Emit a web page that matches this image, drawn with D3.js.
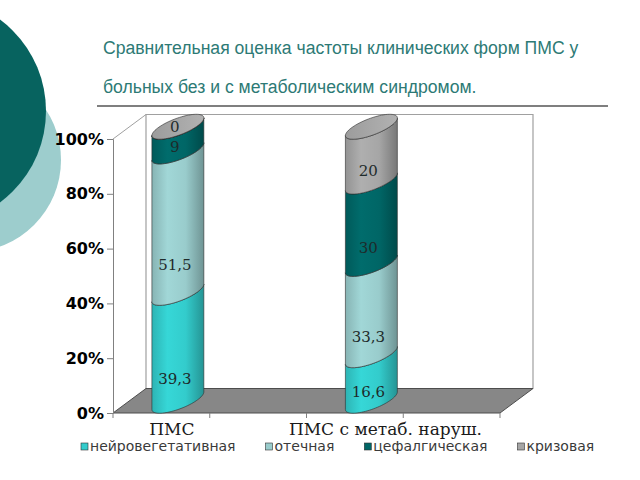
<!DOCTYPE html>
<html>
<head>
<meta charset="utf-8">
<script src="https://cdn.jsdelivr.net/npm/d3@7"></script>
<style>
  body { margin: 0; background: #fff; }
  svg { display: block; }
</style>
</head>
<body>
<div id="chart"></div>
<script>
// data
const categories = ['ПМС', 'ПМС с метаб. наруш.'];
const seriesNames = ['нейровегетативная', 'отечная', 'цефалгическая', 'кризовая'];
const neuroVeg = [39.3, 16.6];
const edema = [51.5, 33.3];
const cephalgic = [9, 30];
const crisis = [0, 20];
const yTicks = [0, 0.2, 0.4, 0.6, 0.8, 1];
const seriesColors = ['#33cccc', '#99cccc', '#006666', '#a6a6a6'];

const W = 640, H = 480;
const svg = d3.select('#chart').append('svg').attr('width', W).attr('height', H);
const defs = svg.append('defs');

// decorative circles on the left
svg.append('circle').attr('cx', -31).attr('cy', 160).attr('r', 92).attr('fill', '#9dcdcd');
svg.append('circle').attr('cx', -68).attr('cy', 111).attr('r', 114).attr('fill', '#07635f');

// title
const title = svg.append('g').attr('font-family', '"Liberation Sans", Arial, sans-serif')
  .attr('font-size', 17.6).attr('fill', '#2d7a75');
title.append('text').attr('x', 103).attr('y', 54).text('Сравнительная оценка частоты клинических форм ПМС у');
title.append('text').attr('x', 103).attr('y', 93).text('больных без и с метаболическим синдромом.');
svg.append('line').attr('x1', 97).attr('x2', 608).attr('y1', 106).attr('y2', 106)
  .attr('stroke', '#7f7f7f').attr('stroke-width', 2);

// rows for stacking
const rows = categories.map((c, i) => ({
  cat: c,
  [seriesNames[0]]: neuroVeg[i],
  [seriesNames[1]]: edema[i],
  [seriesNames[2]]: cephalgic[i],
  [seriesNames[3]]: crisis[i]
}));
const stacked = d3.stack().keys(seriesNames).offset(d3.stackOffsetExpand)(rows);

// scales (front plane)
const x = d3.scaleBand().domain(categories).range([113, 500]).paddingInner(0).paddingOuter(0);
const y = d3.scaleLinear().domain([0, 1]).range([413, 139]);
const color = d3.scaleOrdinal().domain(seriesNames).range(seriesColors);
const DX = 33, DY = -24.5;   // depth of the 3d box

const bw = x.bandwidth();
const x0 = 113, x1 = 500, yb = y(0), yt = y(1);

// walls and floor
const box = svg.append('g');
box.append('path')
  .attr('d', `M${x0 + DX},${yt + DY}H${x1 + DX}V${yb + DY}H${x0 + DX}Z`)
  .attr('fill', '#fff').attr('stroke', '#a0a0a0').attr('stroke-width', 1.2);
box.append('path')
  .attr('d', `M${x0},${yt}L${x0 + DX},${yt + DY}`)
  .attr('fill', 'none').attr('stroke', '#a0a0a0');
box.append('path')
  .attr('d', `M${x0},${yb}L${x1},${yb}L${x1 + DX},${yb + DY}L${x0 + DX},${yb + DY}Z`)
  .attr('fill', '#878787').attr('stroke', '#4d4d4d').attr('stroke-width', 1);

// y axis
const yAxis = svg.append('g').attr('transform', `translate(${x0},0)`)
  .call(d3.axisLeft(y).tickValues(yTicks).tickFormat(d3.format('.0%')).tickSize(6).tickPadding(3));
yAxis.select('.domain').attr('stroke', '#808080');
yAxis.selectAll('.tick line').attr('stroke', '#808080');
yAxis.selectAll('.tick text').attr('font-family', '"DejaVu Sans", Verdana, sans-serif')
  .attr('font-weight', 'bold').attr('font-size', 16).attr('fill', '#000');

// x axis ticks (category bounds and mid points)
const xTicks = [];
categories.forEach(c => { xTicks.push(x(c), x(c) + bw / 2); });
xTicks.push(x1);
svg.append('g').selectAll('line').data(xTicks).join('line')
  .attr('x1', d => d).attr('x2', d => d).attr('y1', yb).attr('y2', yb + 5)
  .attr('stroke', '#808080');

// category labels
svg.append('g').selectAll('text').data(categories).join('text')
  .attr('x', d => x(d) + bw / 4 + DX / 2 + (d.length > 5 ? 14 : -6))
  .attr('y', 435)
  .attr('text-anchor', 'middle')
  .attr('font-family', '"DejaVu Serif", serif')
  .attr('font-size', 17).attr('fill', '#1a1a1a')
  .text(d => d);

// cylinder geometry
const A = 27.6, B = 8.3, phi = 20.7 * Math.PI / 180;
const ex = t => A * Math.cos(t) * Math.cos(phi) - B * Math.sin(t) * Math.sin(phi);
const ey = t => -(A * Math.cos(t) * Math.sin(phi) + B * Math.sin(t) * Math.cos(phi));
const tR = Math.atan2(-B * Math.sin(phi), A * Math.cos(phi));
const frontArc = d3.range(0, 41).map(i => tR + Math.PI + Math.PI * i / 40);
const cylX = c => x(c) + bw / 4 + DX / 2;
const cylY = v => y(v) + DY / 2;

function segmentPath(cx, v0, v1) {
  const top = frontArc.map(t => [cx + ex(t), cylY(v1) + ey(t)]);
  const bot = frontArc.map(t => [cx + ex(t), cylY(v0) + ey(t)]).reverse();
  return d3.line()(top.concat(bot)) + 'Z';
}
function ellipsePath(cx, v) {
  const pts = d3.range(0, 73).map(i => [cx + ex(i * Math.PI / 36), cylY(v) + ey(i * Math.PI / 36)]);
  return d3.line()(pts) + 'Z';
}

// gradients for side shading
seriesNames.forEach((s, i) => {
  const c = d3.color(color(s));
  const g = defs.append('linearGradient').attr('id', 'g' + i).attr('x1', 0).attr('x2', 1).attr('y1', 0).attr('y2', 0);
  g.append('stop').attr('offset', '0%').attr('stop-color', c.darker(0.35));
  g.append('stop').attr('offset', '30%').attr('stop-color', c.brighter(0.15));
  g.append('stop').attr('offset', '65%').attr('stop-color', c);
  g.append('stop').attr('offset', '100%').attr('stop-color', c.darker(0.9));
});
const capGrad = defs.append('linearGradient').attr('id', 'cap').attr('x1', 0).attr('x2', 1).attr('y1', 0).attr('y2', 0);
capGrad.append('stop').attr('offset', '0%').attr('stop-color', '#9c9c9c');
capGrad.append('stop').attr('offset', '100%').attr('stop-color', '#b2b2b2');

const fmt = v => d3.format('.1~f')(v).replace('.', ',');

categories.forEach((c, ci) => {
  const g = svg.append('g');
  const cx = cylX(c);
  stacked.forEach((layer, si) => {
    const d = layer[ci];
    g.append('path').attr('d', segmentPath(cx, d[0], d[1]))
      .attr('fill', `url(#g${si})`).attr('stroke', '#2b2b2b').attr('stroke-width', 0.6);
  });
  g.append('path').attr('d', ellipsePath(cx, 1))
    .attr('fill', 'url(#cap)').attr('stroke', '#2b2b2b').attr('stroke-width', 0.6);

  // value labels near segment base
  stacked.forEach((layer, si) => {
    const d = layer[ci];
    const raw = [neuroVeg, edema, cephalgic, crisis][si][ci];
    g.append('text')
      .attr('x', cx - 3)
      .attr('y', cylY(d[0] + 0.2 * (d[1] - d[0])))
      .attr('dy', '0.35em')
      .attr('text-anchor', 'middle')
      .attr('font-family', '"DejaVu Serif", serif')
      .attr('font-size', 15).attr('fill', '#1e2b2b')
      .text(fmt(raw));
  });
});

// legend
const legend = svg.append('g').attr('transform', 'translate(81,451)');
let lx = 0;
seriesNames.forEach((s, i) => {
  const item = legend.append('g').attr('transform', `translate(${lx},0)`);
  item.append('rect').attr('x', 0).attr('y', -8).attr('width', 7).attr('height', 7)
    .attr('fill', color(s)).attr('stroke', '#333').attr('stroke-width', 0.6);
  const t = item.append('text').attr('x', 9).attr('y', 0)
    .attr('font-family', '"DejaVu Sans", Verdana, sans-serif')
    .attr('font-size', 14).attr('fill', '#3a3a3a').text(s);
  lx += 9 + t.node().getComputedTextLength() + 30;
});
</script>
</body>
</html>
